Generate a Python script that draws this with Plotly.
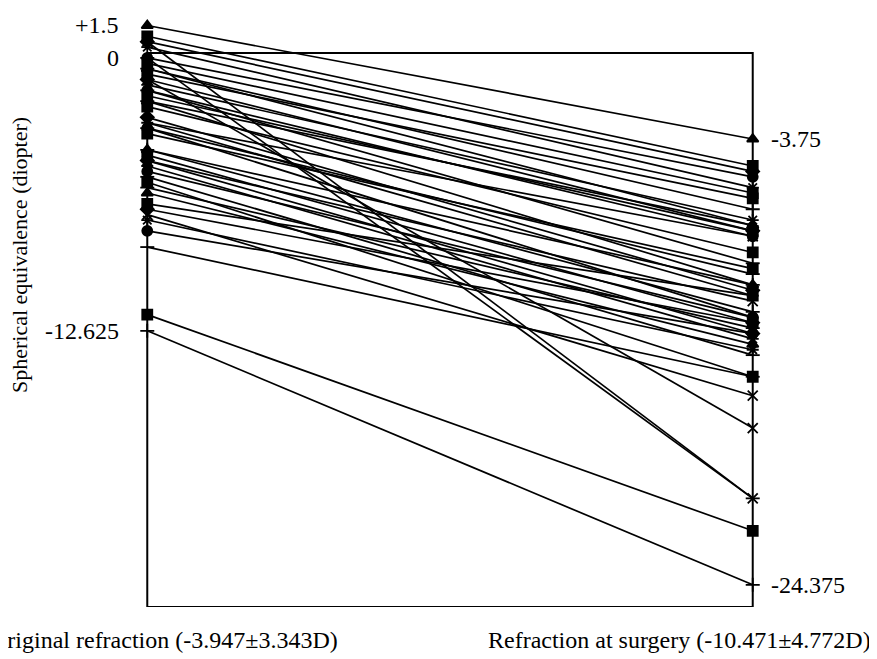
import plotly.graph_objects as go

# Spherical equivalence (D) per eye: original refraction vs refraction at surgery
original = [1.5, 1.0, 0.75, 0.75, 0.5, 0.0, 0.0, -0.25, -0.5, -0.5, -0.75, -1.0, -1.0,
            -1.25, -1.5, -1.5, -1.75, -2.0, -2.0, -2.25, -2.75, -3.0, -3.0, -3.25, -3.25,
            -3.5, -4.25, -4.25, -4.5, -4.75, -4.75, -5.0, -5.25, -5.5, -5.75, -6.0, -6.25,
            -6.75, -7.0, -7.25, -7.5, -8.0, -8.75, -11.875, -12.625]
surgery = [-3.75, -5.0, -5.25, -20.375, -6.0, -5.5, -20.375, -6.25, -7.0, -7.75, -6.5, -8.0,
           -17.125, -7.5, -8.25, -9.5, -8.0, -10.5, -7.75, -9.0, -10.75, -8.25, -11.0, -12.0,
           -10.0, -9.75, -11.75, -10.5, -12.25, -12.75, -11.25, -13.0, -12.0, -13.75, -14.75,
           -12.5, -13.25, -11.0, -12.25, -15.625, -13.5, -12.75, -14.75, -21.875, -24.375]
x_labels = ["Original refraction (-3.947\u00b13.343D)", "Refraction at surgery (-10.471\u00b14.772D)"]
left_ticks = [1.5, 0.0, -12.625]
left_tick_text = ["+1.5", "0", "-12.625"]
right_ticks = [-3.75, -24.375]
right_tick_text = ["-3.75", "-24.375"]
y_title = "Spherical equivalence (diopter)"

symbols = ["triangle-up", "square", "diamond", "x-thin-open", "asterisk-open", "circle",
           "line-ew-open", "square", "cross-thin-open"]

FONT = "Liberation Serif, Times New Roman, serif"
FS = 24

fig = go.Figure()
for i, (a, b) in enumerate(zip(original, surgery)):
    fig.add_trace(go.Scatter(
        x=[0, 1], y=[a, b], mode="lines+markers",
        line=dict(color="black", width=1.7),
        marker=dict(symbol=symbols[i % len(symbols)], size=10, color="black",
                    line=dict(color="black", width=1.8)),
        cliponaxis=False, showlegend=False, hoverinfo="skip"))

# frame
fig.add_shape(type="rect", xref="x", yref="y", x0=0, x1=1, y0=-25.4, y1=0.23,
              line=dict(color="black", width=2), fillcolor="rgba(0,0,0,0)", layer="below")

ann = []
for v, t in zip(left_ticks, left_tick_text):
    ann.append(dict(x=0, y=v, xref="x", yref="y", text=t, showarrow=False,
                    xanchor="right", yanchor="middle", xshift=-26,
                    font=dict(family=FONT, size=FS, color="black")))
for v, t in zip(right_ticks, right_tick_text):
    ann.append(dict(x=1, y=v, xref="x", yref="y", text=t, showarrow=False,
                    xanchor="left", yanchor="middle", xshift=16,
                    font=dict(family=FONT, size=FS, color="black")))
ann.append(dict(x=(340 - 117) / 666, y=(607 - 640) / 588, xref="paper", yref="paper",
                text=x_labels[0], showarrow=False, xanchor="right", yanchor="middle",
                font=dict(family=FONT, size=FS, color="black")))
ann.append(dict(x=(873 - 117) / 666, y=(607 - 640) / 588, xref="paper", yref="paper",
                text=x_labels[1], showarrow=False, xanchor="right", yanchor="middle",
                font=dict(family=FONT, size=FS, color="black")))
ann.append(dict(x=(19 - 117) / 666, y=(607 - 255) / 588, xref="paper", yref="paper",
                text=y_title, showarrow=False, xanchor="center", yanchor="middle",
                textangle=-90, font=dict(family=FONT, size=22, color="black")))

fig.update_layout(
    width=877, height=659,
    margin=dict(l=109, r=102, t=11, b=60),
    paper_bgcolor="white", plot_bgcolor="white",
    xaxis=dict(range=[-0.05, 1.05], visible=False, fixedrange=True),
    yaxis=dict(range=[-25.4, 1.8], visible=False, fixedrange=True),
    annotations=ann,
)

fig.write_html("out.html")
